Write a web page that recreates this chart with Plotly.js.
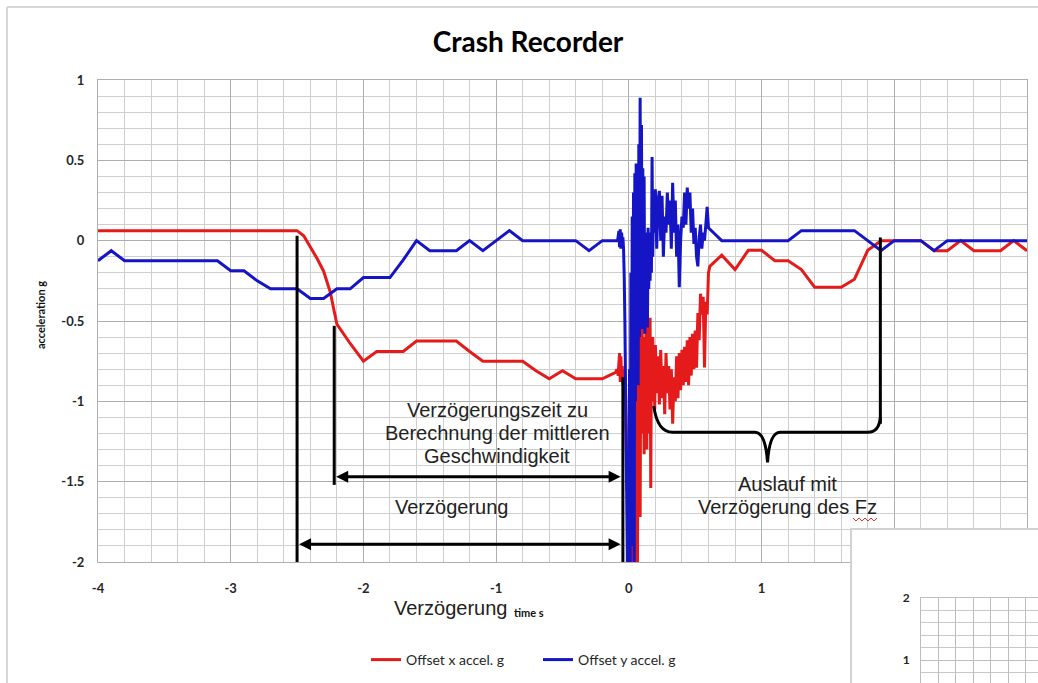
<!DOCTYPE html>
<html><head><meta charset="utf-8">
<script src="https://cdn.plot.ly/plotly-3.0.1.min.js"></script>
<style>html,body{margin:0;padding:0;background:#fff}#chart{width:1038px;height:683px}</style>
</head><body><div id="chart"></div>
<script>
// ---------- data ----------
const timeX = [-4.0,-3.9,-3.8,-3.7,-3.6,-3.5,-3.4,-3.3,-3.2,-3.1,-3.0,-2.9,-2.8,-2.7,-2.6,-2.5,-2.45,-2.4,-2.35,-2.3,-2.25,-2.2,-2.1,-2.0,-1.9,-1.8,-1.7,-1.6,-1.5,-1.4,-1.3,-1.2,-1.1,-1.0,-0.9,-0.8,-0.7,-0.6,-0.5,-0.4,-0.3,-0.2,-0.1,
 -0.09,-0.08,-0.075,-0.07,-0.065,-0.06,-0.055,-0.05,-0.045,-0.04,-0.035,-0.03,-0.025,-0.02,-0.015,-0.01,-0.005,
 0.0,0.005,0.01,0.015,0.02,0.025,0.03,0.035,0.04,0.045,0.05,0.055,0.06,0.065,0.07,0.075,0.08,0.085,0.09,0.095,
 0.1,0.105,0.11,0.115,0.12,0.125,0.13,0.135,0.14,0.145,0.15,0.155,0.16,0.165,0.17,0.175,0.18,0.185,0.19,0.195,
 0.2,0.21,0.22,0.23,0.24,0.25,0.26,0.27,0.28,0.29,0.3,0.31,0.32,0.33,0.34,0.35,0.36,0.37,0.38,0.39,
 0.4,0.41,0.42,0.43,0.44,0.45,0.46,0.47,0.48,0.49,0.5,0.51,0.52,0.53,0.54,0.55,0.56,0.57,0.58,0.59,
 0.6,0.61,0.7,0.8,0.9,1.0,1.1,1.2,1.3,1.4,1.5,1.6,1.7,1.8,1.9,2.0,2.1,2.2,2.3,2.4,2.5,2.6,2.7,2.8,2.9,3.0];
const accelX = [0.0625,0.0625,0.0625,0.0625,0.0625,0.0625,0.0625,0.0625,0.0625,0.0625,0.0625,0.0625,0.0625,0.0625,0.0625,0.0625,0.03,-0.04,-0.11,-0.19,-0.32,-0.52,-0.64,-0.75,-0.69,-0.69,-0.69,-0.625,-0.625,-0.625,-0.625,-0.69,-0.75,-0.75,-0.75,-0.75,-0.81,-0.86,-0.81,-0.86,-0.86,-0.86,-0.82,
 -0.80,-0.84,-0.76,-0.70,-0.88,-0.72,-0.86,-0.78,-0.90,-0.80,-0.86,-0.83,-0.95,-1.20,-1.55,-1.35,-1.90,
 -1.30,-2.10,-1.00,-2.20,-1.60,-2.30,-0.90,-1.90,-1.20,-2.10,-0.60,-1.50,-0.80,-2.05,-0.55,-1.30,-0.70,-1.72,-0.60,-1.20,
 -0.50,-1.00,-0.65,-1.33,-0.60,-1.00,-0.45,-1.30,-0.50,-0.95,-0.62,-1.20,-0.48,-1.54,-0.70,-1.00,-0.60,-0.90,-0.75,-1.05,
 -0.65,-0.95,-0.72,-1.02,-0.68,-0.98,-0.78,-1.08,-0.70,-0.95,-0.78,-1.05,-0.80,-1.14,-0.85,-1.00,-0.72,-0.98,-0.70,-0.93,
 -0.68,-0.90,-0.66,-0.88,-0.62,-0.90,-0.60,-0.84,-0.58,-0.80,-0.56,-0.79,-0.45,-0.62,-0.33,-0.46,-0.35,-0.79,-0.38,-0.46,
 -0.20,-0.16,-0.09,-0.18,-0.06,-0.06,-0.125,-0.125,-0.18,-0.29,-0.29,-0.29,-0.24,-0.06,0,0,0,0,-0.0625,-0.0625,0,-0.0625,-0.0625,-0.0625,0,-0.0625];

const timeY = [-4.0,-3.9,-3.8,-3.7,-3.6,-3.5,-3.4,-3.3,-3.2,-3.1,-3.0,-2.9,-2.8,-2.7,-2.6,-2.5,-2.4,-2.3,-2.2,-2.1,-2.0,-1.9,-1.8,-1.7,-1.6,-1.5,-1.4,-1.3,-1.2,-1.1,-1.0,-0.9,-0.8,-0.7,-0.6,-0.5,-0.4,-0.3,-0.2,-0.1,
 -0.085,-0.075,-0.07,-0.065,-0.06,-0.055,-0.05,-0.045,-0.04,-0.035,-0.03,-0.025,-0.02,-0.015,-0.01,-0.005,
 0.0,0.005,0.01,0.015,0.02,0.025,0.03,0.035,0.04,0.045,0.05,0.055,0.06,0.065,0.07,0.075,0.08,0.085,0.09,0.095,
 0.1,0.105,0.11,0.115,0.12,0.125,0.13,0.135,0.14,0.145,0.15,0.155,0.16,0.165,0.17,0.175,0.18,0.185,0.19,
 0.2,0.21,0.22,0.23,0.24,0.25,0.26,0.27,0.28,0.29,0.3,0.31,0.32,0.33,0.34,0.35,0.36,0.37,0.38,0.39,
 0.4,0.41,0.42,0.43,0.44,0.45,0.46,0.47,0.48,0.49,0.5,0.51,0.52,0.53,0.54,0.55,0.56,0.57,0.58,0.59,
 0.6,0.65,0.7,0.8,0.9,1.0,1.1,1.2,1.3,1.4,1.5,1.6,1.7,1.8,1.9,2.0,2.1,2.2,2.3,2.4,2.5,2.6,2.7,2.8,2.9,3.0];
const accelY = [-0.125,-0.0625,-0.125,-0.125,-0.125,-0.125,-0.125,-0.125,-0.125,-0.125,-0.1875,-0.1875,-0.25,-0.30,-0.30,-0.30,-0.36,-0.36,-0.30,-0.30,-0.23,-0.23,-0.23,-0.12,0,-0.0625,-0.0625,-0.0625,0,-0.0625,0,0.0625,0,0,0,0,0,-0.0625,0,0,
 0,0.06,-0.04,0.07,-0.05,0.05,0.0,0.02,-0.05,-0.22,-0.50,-0.90,-1.30,-1.70,-2.10,-1.40,
 -2.20,-0.80,-2.10,-0.20,-1.90,0.15,-1.60,0.30,-2.10,0.42,-1.00,0.48,-0.80,0.45,-0.90,0.60,-0.60,0.89,-0.40,0.72,
 -0.55,0.45,-0.30,0.40,-0.58,0.05,-0.50,0.0,-0.54,0.08,-0.30,0.02,-0.25,0.05,-0.20,0.52,-0.10,0.20,0.05,
 0.32,-0.05,0.25,0.31,0.0,0.28,-0.10,0.15,0.05,0.30,0.10,0.25,-0.05,0.36,0.05,0.25,-0.10,0.10,-0.29,0.0,
 0.15,0.08,0.30,0.10,0.33,0.20,0.30,0.05,0.20,-0.02,0.08,-0.10,-0.16,0.02,0.10,-0.05,0.05,0.0,0.10,0.21,
 0.08,0.04,0,0,0,0,0,0,0.0625,0.0625,0.0625,0.0625,0.0625,0,-0.0625,0,0,0,-0.0625,0,0,0,0,0,0,0];

const seriesNames = ['Offset x accel. g', 'Offset y accel. g'];
const xTickVals = [-4, -3, -2, -1, 0, 1, 2, 3];
const xTickText = ['-4', '-3', '-2', '-1', '0', '1', '2', '3'];
const yTickVals = [1, 0.5, 0, -0.5, -1, -1.5, -2];
const yTickText = ['1', '0.5', '0', '-0.5', '-1', '-1.5', '-2'];
const insetTickVals = [1, 2];
const insetTickText = ['1', '2'];

// ---------- geometry helpers (page pixels -> paper) ----------
const W = 1038, H = 683, L = 98, T = 80;
const PW = W - L, PH = H - T;
const px = p => (p - L) / PW;
const py = p => (H - p) / PH;
const XS = 133, YS = 160.7; // px per data unit (main axes)

const tickFont = {family: 'Lato, "Open Sans", sans-serif', size: 13, color: '#262626', weight: 'bold'};
const noteFont = {family: '"Liberation Sans", Arial, sans-serif', size: 20, color: '#222'};

const traces = [
  {type: 'scatter', mode: 'lines', name: seriesNames[0], x: timeX, y: accelX,
   line: {color: '#e51b1b', width: 3, simplify: false}, hoverinfo: 'skip'},
  {type: 'scatter', mode: 'lines', name: seriesNames[1], x: timeY, y: accelY,
   line: {color: '#1515c6', width: 3, simplify: false}, hoverinfo: 'skip'},
  {type: 'scatter', x: [], y: [], xaxis: 'x2', yaxis: 'y2', showlegend: false, hoverinfo: 'skip'},
  {type: 'scatter', x: [], y: [], xaxis: 'x3', yaxis: 'y3', showlegend: false, hoverinfo: 'skip'}
];

// ---------- annotation graphics ----------
const shapes = [];
function vline(x, y0, y1) {
  shapes.push({type: 'line', xref: 'x', yref: 'y', x0: x, x1: x, y0: y0, y1: y1, line: {color: '#000', width: 3}});
}
vline(-2.5, 0.03, -2);
vline(-2.22, -0.53, -1.52);
vline(-0.045, -0.85, -2);
vline(1.895, 0.02, -1.14);

function dblArrow(xa, xb, y) {
  const hl = 12 / XS, hw = 6 / YS;
  shapes.push({type: 'line', xref: 'x', yref: 'y', x0: xa + hl * 0.8, x1: xb - hl * 0.8, y0: y, y1: y, line: {color: '#000', width: 3}});
  shapes.push({type: 'path', xref: 'x', yref: 'y', fillcolor: '#000', line: {width: 0},
    path: `M${xa},${y} L${xa + hl},${y + hw} L${xa + hl},${y - hw} Z`});
  shapes.push({type: 'path', xref: 'x', yref: 'y', fillcolor: '#000', line: {width: 0},
    path: `M${xb},${y} L${xb - hl},${y + hw} L${xb - hl},${y - hw} Z`});
}
dblArrow(-2.205, -0.062, -1.47);
dblArrow(-2.485, -0.062, -1.89);

// curly brace
shapes.push({type: 'path', xref: 'x', yref: 'y', line: {color: '#000', width: 3},
  path: 'M0.188,-1.03 Q0.215,-1.193 0.33,-1.193 L0.95,-1.193 Q1.03,-1.193 1.045,-1.38 Q1.06,-1.193 1.14,-1.193 L1.80,-1.193 Q1.885,-1.193 1.895,-1.10'});

// outer frame (left and top visible)
shapes.push({type: 'line', xref: 'paper', yref: 'paper', x0: px(7), x1: px(7), y0: py(7), y1: py(690), line: {color: '#d6d6d6', width: 2}});
shapes.push({type: 'line', xref: 'paper', yref: 'paper', x0: px(7), x1: px(1045), y0: py(7), y1: py(7), line: {color: '#d6d6d6', width: 2}});

// red spell-check squiggle under "Fz"
let sq = `M${px(853)},${py(518)}`;
for (let i = 1; i <= 8; i++) sq += ` L${px(853 + i * 3)},${py(i % 2 ? 521 : 518)}`;
shapes.push({type: 'path', xref: 'paper', yref: 'paper', path: sq, line: {color: '#e03030', width: 1}});

function note(text, x, y, font, extra) {
  return Object.assign({text: text, xref: 'paper', yref: 'paper', x: px(x), y: py(y),
    xanchor: 'center', yanchor: 'middle', showarrow: false, font: font}, extra || {});
}
const annotations = [
  note('acceleration g', 40, 315, {family: tickFont.family, size: 11, color: '#111', weight: 'bold'}, {textangle: -90}),
  note('time s', 529, 612, {family: tickFont.family, size: 11, color: '#111', weight: 'bold'}),
  note('Verzögerung', 450, 608, noteFont),
  note('Verzögerung', 451, 507, noteFont),
  note('Verzögerungszeit zu', 497, 410, noteFont),
  note('Berechnung der mittleren', 497, 433, noteFont),
  note('Geschwindigkeit', 497, 456, noteFont),
  note('Auslauf mit', 787, 484, noteFont),
  note('Verzögerung des Fz', 787, 507, noteFont)
];

const layout = {
  width: W, height: H,
  margin: {l: L, r: 0, t: T, b: 0, pad: 0},
  paper_bgcolor: '#fff', plot_bgcolor: '#fff',
  title: {text: 'Crash Recorder', font: {family: tickFont.family, size: 28, color: '#000', weight: 'bold'},
          xref: 'paper', x: px(528), xanchor: 'center', yref: 'container', y: 1 - 42 / H, yanchor: 'middle'},
  showlegend: true,
  legend: {orientation: 'h', x: px(366), xanchor: 'left', y: py(660), yanchor: 'middle',
           font: {family: tickFont.family, size: 14, color: '#262626'}, bgcolor: 'rgba(0,0,0,0)',
           itemwidth: 30, entrywidth: 127, entrywidthmode: 'pixels'},
  xaxis: {domain: [0, px(1027)], range: [-4, 3], tickvals: xTickVals, ticktext: xTickText, ticks: '', zeroline: false,
          showgrid: true, gridcolor: '#aeaeae', gridwidth: 1,
          minor: {dtick: 0.2, showgrid: true, gridcolor: '#cfcfcf', gridwidth: 1},
          showline: true, mirror: true, linecolor: '#aeaeae', linewidth: 1,
          tickfont: tickFont, ticklabelstandoff: 14, fixedrange: true},
  yaxis: {domain: [py(562), 1], range: [-2, 1], tickvals: yTickVals, ticktext: yTickText, ticks: '', zeroline: false,
          showgrid: true, gridcolor: '#aeaeae', gridwidth: 1,
          minor: {dtick: 0.1, showgrid: true, gridcolor: '#cfcfcf', gridwidth: 1},
          showline: true, mirror: true, linecolor: '#aeaeae', linewidth: 1,
          tickfont: tickFont, ticklabelstandoff: 10, fixedrange: true},
  xaxis2: {domain: [px(852), 1], anchor: 'y2', range: [0, 1], showgrid: false, zeroline: false,
           showticklabels: false, ticks: '', showline: true, side: 'top', linecolor: '#d2d2d2', linewidth: 2, fixedrange: true},
  yaxis2: {domain: [0, py(530)], anchor: 'x2', range: [0, 1], showgrid: false, zeroline: false,
           showticklabels: false, ticks: '', showline: true, side: 'left', linecolor: '#d2d2d2', linewidth: 2, fixedrange: true},
  xaxis3: {domain: [px(921), 1], anchor: 'y3', range: [0, 6.7], dtick: 1, showgrid: true, gridcolor: '#bdbdbd',
           zeroline: false, showticklabels: false, ticks: '', showline: true, side: 'top', linecolor: '#bdbdbd', fixedrange: true},
  yaxis3: {domain: [0, py(598)], anchor: 'x3', range: [0.629, 2], tickvals: insetTickVals, ticktext: insetTickText,
           showgrid: true, gridcolor: '#bdbdbd',
           minor: {dtick: 0.2, showgrid: true, gridcolor: '#c8c8c8'},
           zeroline: false, ticks: '', showline: true, linecolor: '#bdbdbd',
           tickfont: {family: tickFont.family, size: 12, color: '#262626', weight: 'bold'}, ticklabelstandoff: 8, fixedrange: true},
  shapes: shapes,
  annotations: annotations
};

Plotly.newPlot('chart', traces, layout, {displayModeBar: false, staticPlot: true});
</script>
</body></html>
